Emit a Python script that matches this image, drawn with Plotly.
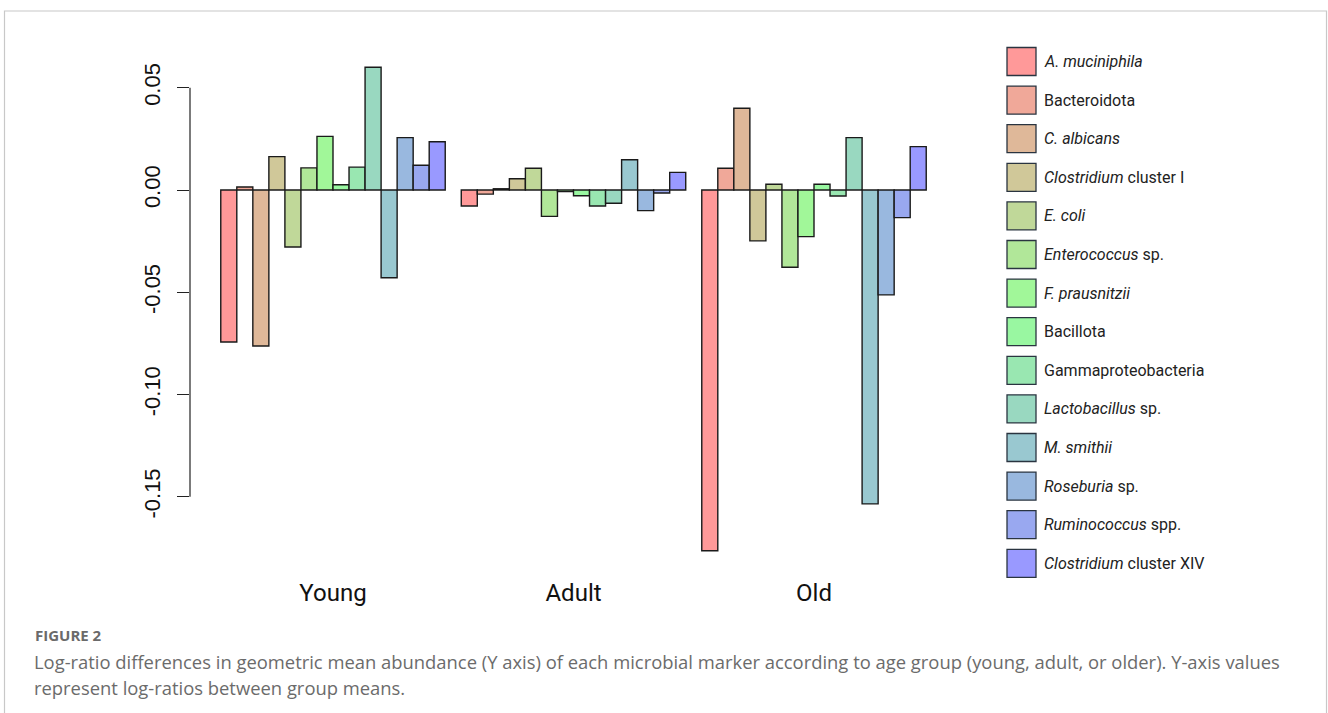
import plotly.graph_objects as go

# Age groups on the x axis
groups = ["Young", "Adult", "Old"]

# Microbial markers (legend order, left to right within each group)
markers = [
    "<i>A. muciniphila</i>",
    "Bacteroidota",
    "<i>C. albicans</i>",
    "<i>Clostridium</i> cluster I",
    "<i>E. coli</i>",
    "<i>Enterococcus</i> sp.",
    "<i>F. prausnitzii</i>",
    "Bacillota",
    "Gammaproteobacteria",
    "<i>Lactobacillus</i> sp.",
    "<i>M. smithii</i>",
    "<i>Roseburia</i> sp.",
    "<i>Ruminococcus</i> spp.",
    "<i>Clostridium</i> cluster XIV",
]

# Log-ratio values per marker: [Young, Adult, Old]
a_muciniphila = [-0.0743, -0.0078, -0.1764]
bacteroidota = [0.0015, -0.0020, 0.0106]
c_albicans = [-0.0763, 0.0006, 0.0400]
clostridium_i = [0.0163, 0.0055, -0.0249]
e_coli = [-0.0279, 0.0106, 0.0028]
enterococcus = [0.0108, -0.0129, -0.0378]
f_prausnitzii = [0.0262, -0.0008, -0.0228]
bacillota = [0.0026, -0.0028, 0.0028]
gammaproteobacteria = [0.0112, -0.0078, -0.0029]
lactobacillus = [0.0600, -0.0065, 0.0256]
m_smithii = [-0.0429, 0.0148, -0.1535]
roseburia = [0.0256, -0.0101, -0.0513]
ruminococcus = [0.0121, -0.0015, -0.0135]
clostridium_xiv = [0.0236, 0.0086, 0.0212]

series = [a_muciniphila, bacteroidota, c_albicans, clostridium_i, e_coli,
          enterococcus, f_prausnitzii, bacillota, gammaproteobacteria,
          lactobacillus, m_smithii, roseburia, ruminococcus, clostridium_xiv]

# Y-axis ticks
y_ticks = [0.05, 0.00, -0.05, -0.10, -0.15]
y_tick_labels = ["0.05", "0.00", "-0.05", "-0.10", "-0.15"]

# Red -> green -> blue ramp, 40% opacity over white
colors = ["#FF9999", "#F0A899", "#DFB899", "#D0C899", "#C0D899", "#B1E799",
          "#A1F799", "#99F7A1", "#99E7B1", "#99D8C0", "#99C8D0", "#99B8DF",
          "#99A8F0", "#9999FF"]

W, H = 1328, 713
PX_L, PX_R, PX_T, PX_B = 190, 960, 60, 560   # plot area in pixels
NARROW = "Roboto, DejaVu Sans"


def px(x):
    return x / W


def py(y):
    return 1 - y / H


fig = go.Figure()
for name, vals, col in zip(markers, series, colors):
    fig.add_trace(go.Bar(
        x=groups, y=vals, name=name,
        marker=dict(color=col, line=dict(color="#1a1a1a", width=1.4)),
        showlegend=False,
    ))

shapes = []
annotations = []

# R-style y axis line spanning only the tick range
shapes.append(dict(type="line", xref="paper", yref="y",
                   x0=px(PX_L), x1=px(PX_L), y0=min(y_ticks), y1=max(y_ticks),
                   line=dict(color="#222222", width=1.2)))

# Legend: boxes and labels
for i, (name, col) in enumerate(zip(markers, colors)):
    cy = 61.5 + i * 38.6
    shapes.append(dict(type="rect", xref="paper", yref="paper",
                       x0=px(1007), x1=px(1036), y0=py(cy + 14), y1=py(cy - 14),
                       fillcolor=col, line=dict(color="#2a3440", width=1.3)))
    annotations.append(dict(xref="paper", yref="paper", x=px(1042), y=py(cy),
                            text=name, showarrow=False, xanchor="left",
                            yanchor="middle",
                            font=dict(size=16, color="#222222", family=NARROW)))

# Outer frame
shapes.append(dict(type="rect", xref="paper", yref="paper",
                   x0=px(4.5), x1=px(1326.5), y0=-0.05, y1=py(11),
                   line=dict(color="#c8c8c8", width=1.2), fillcolor="rgba(0,0,0,0)"))

# Caption
annotations.append(dict(xref="paper", yref="paper", x=px(33), y=py(635),
                        text="<b>FIGURE 2</b>", showarrow=False, xanchor="left",
                        yanchor="middle",
                        font=dict(size=15, color="#6a6a6a", family="Open Sans")))
annotations.append(dict(xref="paper", yref="paper", x=px(32), y=py(661),
                        text="Log-ratio differences in geometric mean abundance (Y axis) of each microbial "
                             "marker according to age group (young, adult, or older). Y-axis values",
                        showarrow=False, xanchor="left", yanchor="middle",
                        font=dict(size=18.4, color="#6b6b6b", family="Open Sans")))
annotations.append(dict(xref="paper", yref="paper", x=px(32), y=py(687),
                        text="represent log-ratios between group means.",
                        showarrow=False, xanchor="left", yanchor="middle",
                        font=dict(size=18.4, color="#6b6b6b", family="Open Sans")))

# Y range chosen so 0 sits at pixel 190 with 2045 px per unit
y_per_px = 1 / 2045
y_top = (190 - PX_T) * y_per_px
y_bot = -(PX_B - 190) * y_per_px
x_step = 240.5
x_left = (PX_L - 333) / x_step
x_right = (PX_R - 333) / x_step

fig.update_layout(
    width=W, height=H,
    margin=dict(l=0, r=0, t=0, b=0),
    paper_bgcolor="white", plot_bgcolor="white",
    barmode="group", bargap=1 / 15, bargroupgap=0,
    shapes=shapes, annotations=annotations,
    xaxis=dict(domain=[px(PX_L), px(PX_R)], range=[x_left, x_right],
               showline=False, showgrid=False, zeroline=False, ticks="",
               automargin=False, ticklabelstandoff=16,
               tickfont=dict(size=24, color="#111111", family=NARROW)),
    yaxis=dict(domain=[py(PX_B), py(PX_T)], range=[y_bot, y_top],
               showline=False, showgrid=False, zeroline=False,
               tickvals=y_ticks, ticktext=y_tick_labels,
               ticks="outside", ticklen=12, tickwidth=1.2, tickcolor="#222222",
               tickangle=-90, automargin=False, ticklabelstandoff=8,
               tickfont=dict(size=22, color="#111111", family="Liberation Sans, Arial")),
)

fig.write_html("out.html")
